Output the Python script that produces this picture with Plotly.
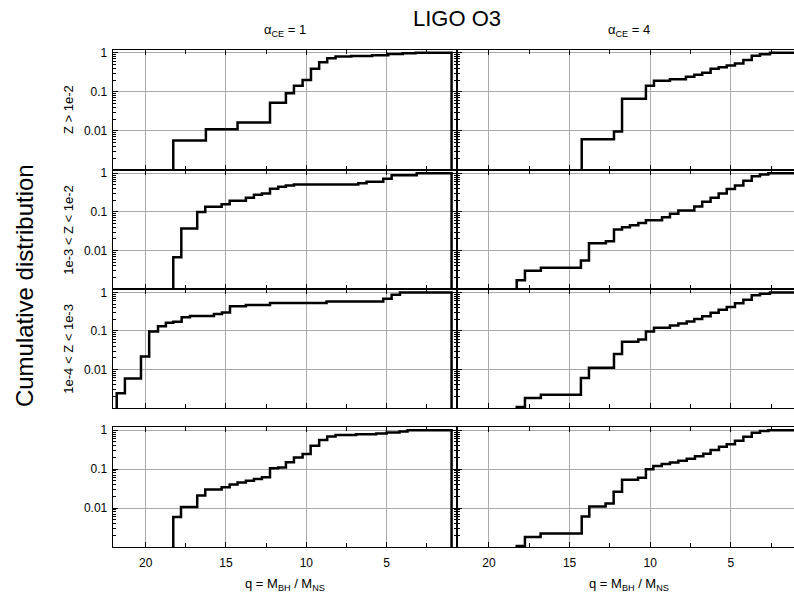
import plotly.graph_objects as go

# ---------------- data (q = M_BH / M_NS step positions, cumulative values) ----------------
# Row 1: Z > 1e-2
q_r1_a1 = [18.28, 16.25, 14.28, 12.26, 11.27, 10.77, 10.23, 9.71, 9.20, 8.70, 8.18, 7.2, 5.9, 4.9, 4.0, 3.2]
c_r1_a1 = [0.0057, 0.011, 0.0164, 0.053, 0.092, 0.144, 0.20, 0.39, 0.57, 0.73, 0.80, 0.83, 0.87, 0.93, 0.97, 1.0]
q_r1_a4 = [14.25, 12.25, 11.75, 10.27, 9.77, 8.78, 7.79, 7.27, 6.78, 6.26, 5.76, 5.26, 4.75, 4.23, 3.71, 3.20, 2.58]
c_r1_a4 = [0.0061, 0.0096, 0.067, 0.144, 0.193, 0.21, 0.245, 0.275, 0.31, 0.39, 0.43, 0.47, 0.53, 0.65, 0.84, 0.92, 1.0]
# Row 2: 1e-3 < Z < 1e-2
q_r2_a1 = [18.28, 17.78, 16.79, 16.29, 15.27, 14.77, 13.76, 13.26, 12.76, 12.26, 11.75, 11.27, 10.77, 6.77, 6.25, 5.21, 4.69, 3.13]
c_r2_a1 = [0.0067, 0.037, 0.10, 0.137, 0.158, 0.195, 0.233, 0.278, 0.30, 0.40, 0.45, 0.48, 0.51, 0.555, 0.60, 0.72, 0.89, 1.0]
q_r2_a4 = [18.28, 17.77, 16.78, 14.30, 13.80, 12.75, 12.25, 11.75, 11.26, 10.74, 10.27, 9.27, 8.78, 8.26, 7.27, 6.78, 6.26, 5.76, 5.26, 4.75, 4.23, 3.71, 3.20, 2.68]
c_r2_a4 = [0.0017, 0.0030, 0.0036, 0.0055, 0.0155, 0.0175, 0.035, 0.040, 0.045, 0.052, 0.061, 0.073, 0.089, 0.108, 0.138, 0.184, 0.233, 0.30, 0.39, 0.48, 0.64, 0.84, 0.93, 1.0]
# Row 3: 1e-4 < Z < 1e-3
q_r3_a1 = [21.8, 21.29, 20.29, 19.78, 19.23, 18.74, 18.28, 17.76, 17.24, 15.75, 15.25, 14.75, 13.76, 12.26, 8.74, 5.21, 4.69, 4.17]
c_r3_a1 = [0.0024, 0.0058, 0.0215, 0.097, 0.133, 0.162, 0.172, 0.225, 0.245, 0.275, 0.30, 0.44, 0.47, 0.53, 0.58, 0.69, 0.87, 1.0]
q_r3_a4 = [18.28, 17.77, 16.78, 14.30, 13.80, 12.25, 11.75, 10.74, 10.27, 9.77, 8.78, 8.26, 7.74, 7.27, 6.78, 6.26, 5.76, 5.26, 4.75, 4.23, 3.71, 3.20, 2.58]
c_r3_a4 = [0.00105, 0.0018, 0.0022, 0.006, 0.011, 0.025, 0.052, 0.06, 0.097, 0.12, 0.138, 0.155, 0.175, 0.204, 0.24, 0.295, 0.355, 0.42, 0.52, 0.65, 0.85, 0.92, 1.0]
# Row 4: all Z
q_r4_a1 = [18.28, 17.80, 16.79, 16.29, 15.27, 14.77, 14.28, 13.76, 13.26, 12.76, 12.26, 11.75, 11.27, 10.77, 10.23, 9.73, 9.20, 8.70, 8.18, 6.9, 5.65, 5.0, 4.2, 3.7]
c_r4_a1 = [0.0059, 0.0106, 0.021, 0.030, 0.034, 0.040, 0.045, 0.050, 0.056, 0.062, 0.105, 0.11, 0.15, 0.20, 0.245, 0.40, 0.56, 0.69, 0.76, 0.79, 0.83, 0.87, 0.93, 1.0]
q_r4_a4 = [18.28, 17.77, 16.80, 14.25, 13.78, 12.77, 12.27, 11.75, 10.76, 10.27, 9.81, 9.29, 8.78, 8.26, 7.74, 7.23, 6.71, 6.26, 5.74, 5.26, 4.75, 4.23, 3.71, 3.20, 2.68]
c_r4_a4 = [0.00105, 0.0018, 0.0022, 0.006, 0.011, 0.013, 0.026, 0.053, 0.060, 0.10, 0.12, 0.135, 0.148, 0.165, 0.185, 0.213, 0.25, 0.31, 0.375, 0.44, 0.54, 0.68, 0.86, 0.96, 1.0]

q_end = 0.96          # final drop of every curve
floor_value = 1e-4    # below the visible y range

panels = [
    [(q_r1_a1, c_r1_a1), (q_r1_a4, c_r1_a4)],
    [(q_r2_a1, c_r2_a1), (q_r2_a4, c_r2_a4)],
    [(q_r3_a1, c_r3_a1), (q_r3_a4, c_r3_a4)],
    [(q_r4_a1, c_r4_a1), (q_r4_a4, c_r4_a4)],
]
col_titles = ["α<sub>CE</sub> = 1", "α<sub>CE</sub> = 4"]
row_titles = ["Z > 1e-2", "1e-3 < Z < 1e-2", "1e-4 < Z < 1e-3", ""]
x_tickvals = [20, 15, 10, 5]
y_tickvals = [0.01, 0.1, 1]
y_ticktext = ["0.01", "0.1", "1"]

# ---------------- layout geometry (pixels in a 794 x 600 page) ----------------
W, H = 794, 600
FONT = "Liberation Sans, Arial, Helvetica, sans-serif"
col_px = [(112.7, 456.7), (456.7, 794.0)]
row_px = [(46.0, 167.3), (167.3, 287.3), (287.3, 406.7), (426.0, 546.7)]
x_ranges = [[22.05, 0.64], [22.0, 1.09]]
y_range = [-3.005, 0.08]

minor_y = [k * 10 ** e for e in (-3, -2, -1) for k in range(2, 10)]
minor_x = [2.5, 7.5, 12.5, 17.5, 22.5]

fig = go.Figure()
layout = dict(
    width=W, height=H,
    margin=dict(l=0, r=0, t=0, b=0),
    paper_bgcolor="white", plot_bgcolor="white",
    showlegend=False,
    font=dict(family=FONT, color="black", size=11),
)

annotations = []
for r in range(4):
    for c in range(2):
        i = r * 2 + c + 1
        xa = f"xaxis{i}" if i > 1 else "xaxis"
        ya = f"yaxis{i}" if i > 1 else "yaxis"
        q, cd = panels[r][c]
        xs = [q[0]] + list(q) + [q_end]
        ys = [floor_value] + list(cd) + [floor_value]
        fig.add_trace(go.Scatter(
            x=xs, y=ys, mode="lines", line=dict(color="black", width=2.5, shape="hv"),
            xaxis=f"x{i}" if i > 1 else "x", yaxis=f"y{i}" if i > 1 else "y",
            hoverinfo="skip",
        ))
        x0, x1 = col_px[c]
        y0, y1 = row_px[r]
        layout[xa] = dict(
            domain=[x0 / W, x1 / W], anchor=f"y{i}" if i > 1 else "y",
            range=x_ranges[c], showline=True, linecolor="black", linewidth=1,
            mirror="ticks", ticks="inside", ticklen=5, tickwidth=1, tickcolor="black",
            tickvals=x_tickvals, showticklabels=(r == 3),
            tickfont=dict(size=12, family=FONT, color="black"),
            ticklabelstandoff=5,
            showgrid=True, gridcolor="#aaaaaa", gridwidth=1.2, zeroline=False,
            minor=dict(tickvals=minor_x, ticks="inside", ticklen=4, tickcolor="black", showgrid=False),
        )
        layout[ya] = dict(
            domain=[1 - y1 / H, 1 - y0 / H], anchor=f"x{i}" if i > 1 else "x",
            type="log", range=y_range, showline=True, linecolor="black", linewidth=1,
            mirror=("ticks" if c == 0 else False), ticks="inside", ticklen=5, tickwidth=1,
            tickcolor="black", tickvals=y_tickvals, ticktext=y_ticktext,
            showticklabels=(c == 0), tickfont=dict(size=12, family=FONT, color="black"),
            ticklabelstandoff=2,
            showgrid=True, gridcolor="#aaaaaa", gridwidth=1.2, zeroline=False,
            minor=dict(tickvals=minor_y, ticks="inside", ticklen=3, tickcolor="black", showgrid=False),
        )
    if row_titles[r]:
        annotations.append(dict(
            text=row_titles[r], x=69 / W, y=1 - ((row_px[r][0] + row_px[r][1]) / 2) / H,
            xref="paper", yref="paper", showarrow=False, textangle=-90,
            xanchor="center", yanchor="middle", font=dict(size=13, family=FONT, color="black"),
        ))

for c in range(2):
    cx = (col_px[c][0] + col_px[c][0] + 344) / 2
    annotations.append(dict(
        text=col_titles[c], x=cx / W, y=1 - 27 / H, xref="paper", yref="paper",
        showarrow=False, xanchor="center", yanchor="middle",
        font=dict(size=13, family=FONT, color="black"),
    ))
    annotations.append(dict(
        text="q = M<sub>BH</sub> / M<sub>NS</sub>", x=cx / W, y=1 - 584 / H,
        xref="paper", yref="paper", showarrow=False, xanchor="center", yanchor="middle",
        font=dict(size=13, family=FONT, color="black"),
    ))

annotations.append(dict(
    text="LIGO O3", x=456.7 / W, y=1 - 15 / H, xref="paper", yref="paper",
    showarrow=False, xanchor="center", yanchor="middle",
    font=dict(size=22, family=FONT, color="black"),
))
annotations.append(dict(
    text="Cumulative distribution", x=24 / W, y=1 - 284 / H, xref="paper", yref="paper",
    showarrow=False, textangle=-90, xanchor="center", yanchor="middle",
    font=dict(size=24, family=FONT, color="black"),
))
layout["annotations"] = annotations
fig.update_layout(**layout)
fig.write_html("out.html")
